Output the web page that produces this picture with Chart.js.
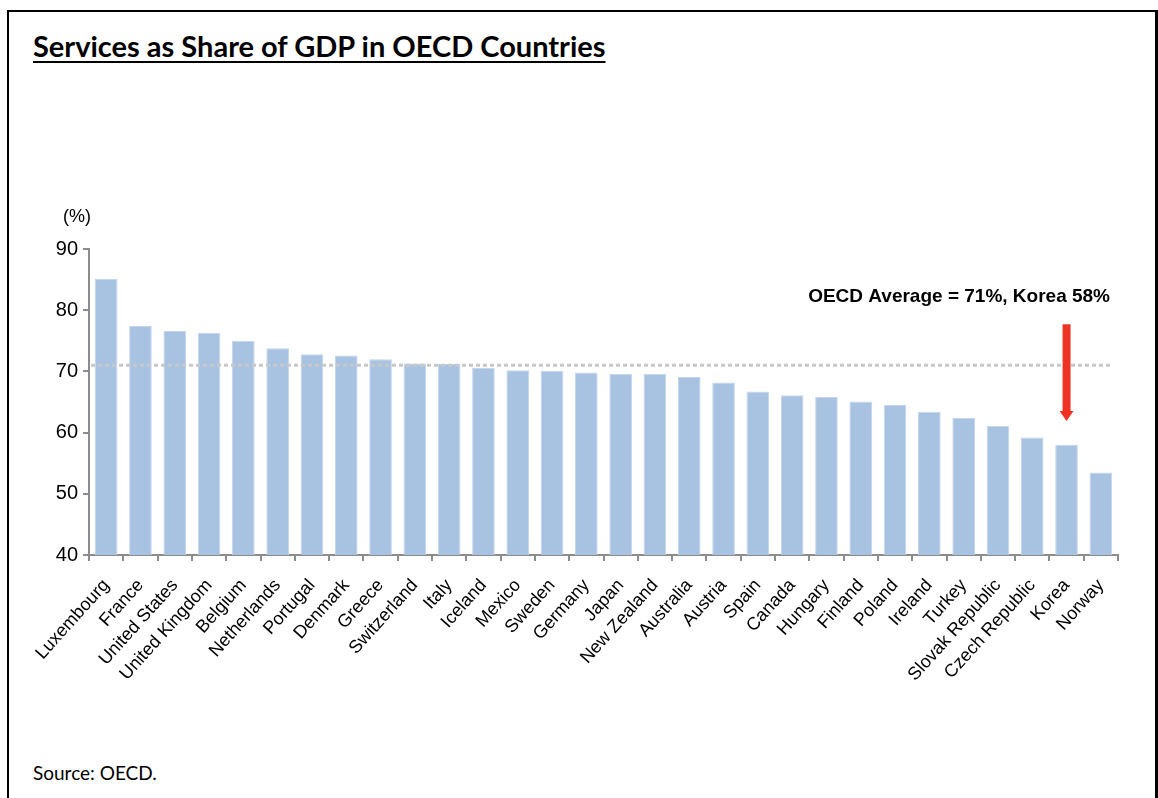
<!DOCTYPE html>
<html>
<head>
<meta charset="utf-8">
<script src="https://cdn.jsdelivr.net/npm/chart.js@4"></script>
<style>
  html, body { margin: 0; padding: 0; background: #fff; }
  body { width: 1158px; height: 798px; position: relative; overflow: hidden; }
  .frame {
    position: absolute; left: 7px; top: 10px; width: 1146px; height: 800px;
    border-left: 2px solid #000; border-top: 2px solid #000; border-right: 4px solid #000;
  }
  .title {
    position: absolute; left: 33px; top: 28px; margin: 0;
    font: bold 29px Lato, "Open Sans", sans-serif; color: #000;
    text-decoration: underline; text-underline-offset: 4px; text-decoration-thickness: 2px;
  }
  .source {
    position: absolute; left: 33px; top: 761px;
    font: 19px Lato, "Open Sans", sans-serif; color: #000;
  }
  #chart { position: absolute; left: 0; top: 0; }
</style>
</head>
<body>
<div class="frame"></div>
<h1 class="title">Services as Share of GDP in OECD Countries</h1>
<div class="source">Source: OECD.</div>
<canvas id="chart" width="1158" height="798"></canvas>
<script>
document.addEventListener("DOMContentLoaded", () => {
  const countries = ['Luxembourg', 'France', 'United States', 'United Kingdom', 'Belgium',
    'Netherlands', 'Portugal', 'Denmark', 'Greece', 'Switzerland', 'Italy', 'Iceland',
    'Mexico', 'Sweden', 'Germany', 'Japan', 'New Zealand', 'Australia', 'Austria', 'Spain',
    'Canada', 'Hungary', 'Finland', 'Poland', 'Ireland', 'Turkey', 'Slovak Republic',
    'Czech Republic', 'Korea', 'Norway'];
  // services share of GDP, %
  const servicesShare = [85.1, 77.4, 76.6, 76.3, 75.0, 73.8, 72.8, 72.6, 72.0, 71.3, 71.2, 70.6,
    70.2, 70.1, 69.8, 69.6, 69.6, 69.1, 68.2, 66.7, 66.1, 65.8, 65.1, 64.5, 63.4, 62.4, 61.1,
    59.2, 58.0, 53.5];
  const yTicks = [40, 50, 60, 70, 80, 90];
  const oecdAverage = 71;
  const highlight = 'Korea';

  const axisGrey = '#8c8c8c';
  const labelFont = '"Liberation Sans", Arial, sans-serif';

  // dotted average line, "(%)" unit label, note text and the red arrow
  const extras = {
    id: 'extras',
    afterDatasetsDraw(chart) {
      const { ctx, chartArea, scales: { x, y } } = chart;
      ctx.save();

      const ya = y.getPixelForValue(oecdAverage);
      ctx.strokeStyle = '#c8c8c8';
      ctx.lineWidth = 3;
      ctx.setLineDash([4, 3]);
      ctx.beginPath();
      ctx.moveTo(chartArea.left + 2, ya);
      ctx.lineTo(chartArea.right - 6, ya);
      ctx.stroke();
      ctx.setLineDash([]);

      ctx.fillStyle = '#000';
      ctx.font = '18px ' + labelFont;
      ctx.textAlign = 'left';
      ctx.textBaseline = 'middle';
      ctx.fillText('(%)', chartArea.left - 26, chartArea.top - 32);

      ctx.font = 'bold 19px ' + labelFont;
      ctx.textAlign = 'right';
      ctx.fillText('OECD Average = ' + oecdAverage + '%, Korea ' + Math.round(servicesShare[countries.indexOf(highlight)]) + '%',
        chartArea.right - 8, y.getPixelForValue(82.2));

      const xk = x.getPixelForValue(countries.indexOf(highlight));
      const top = y.getPixelForValue(77.7);
      const tip = y.getPixelForValue(61.9);
      ctx.fillStyle = '#ee3324';
      ctx.fillRect(xk - 4, top, 8, tip - top - 8);
      ctx.beginPath();
      ctx.moveTo(xk - 7, tip - 10);
      ctx.lineTo(xk + 7, tip - 10);
      ctx.lineTo(xk, tip);
      ctx.closePath();
      ctx.fill();
      ctx.restore();
    }
  };

  new Chart(document.getElementById('chart').getContext('2d'), {
    type: 'bar',
    data: {
      labels: countries,
      datasets: [{
        data: servicesShare,
        backgroundColor: '#a8c2e1',
        borderColor: '#c3d5ec',
        borderWidth: 1,
        barPercentage: 0.66,
        categoryPercentage: 1
      }]
    },
    options: {
      responsive: false,
      animation: false,
      layout: { padding: { top: 249, right: 40, left: 0, bottom: 0 } },
      plugins: { legend: { display: false }, tooltip: { enabled: false } },
      scales: {
        x: {
          afterFit: (s) => { s.height = 243; },
          grid: { offset: true, drawOnChartArea: false, tickLength: 6, tickColor: axisGrey, lineWidth: 2 },
          border: { color: axisGrey, width: 2 },
          ticks: {
            color: '#000', minRotation: 48, maxRotation: 48, autoSkip: false, padding: 14,
            font: { family: labelFont, size: 18 }
          }
        },
        y: {
          min: 40, max: 90,
          afterFit: (s) => { s.width = 89; },
          afterBuildTicks: (s) => { s.ticks = yTicks.map(v => ({ value: v })); },
          grid: { drawOnChartArea: false, tickLength: 6, tickColor: axisGrey, lineWidth: 2 },
          border: { color: axisGrey, width: 2 },
          ticks: { color: '#000', padding: 5, font: { family: labelFont, size: 20 } }
        }
      }
    },
    plugins: [extras]
  });
});
</script>
</body>
</html>
